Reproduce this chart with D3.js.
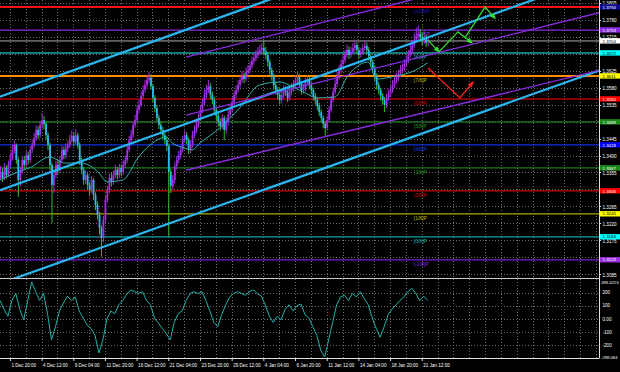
<!DOCTYPE html>
<html>
<head>
<meta charset="utf-8">
<script src="https://cdn.jsdelivr.net/npm/d3@7"></script>
<style>
html, body { margin: 0; padding: 0; background: #000; }
svg { display: block; }
text { font-family: "Liberation Sans", "DejaVu Sans", sans-serif; }
</style>
</head>
<body>
<svg id="chart" width="620" height="372"></svg>
<script>
// GBPUSD H4, 1 Dec 2020 .. 21 Jan 2021
var firstOpen = 1.3350;
var closes = [
  1.3356,1.3340,1.3367,1.3348,1.3375,1.3393,1.3415,1.3428,1.3388,1.3335,
  1.3362,1.3388,1.3375,1.3401,1.3388,1.3415,1.3428,1.3446,1.3468,1.3454,
  1.3481,1.3494,1.3484,1.3454,1.3428,1.3375,1.3322,1.3348,1.3375,1.3362,
  1.3388,1.3415,1.3401,1.3420,1.3428,1.3441,1.3452,1.3436,1.3454,1.3428,
  1.3388,1.3362,1.3335,1.3348,1.3322,1.3309,1.3335,1.3295,1.3269,1.3242,
  1.3208,1.3181,1.3229,1.3282,1.3309,1.3340,1.3330,1.3348,1.3362,1.3348,
  1.3367,1.3356,1.3375,1.3388,1.3415,1.3441,1.3454,1.3481,1.3494,1.3521,
  1.3534,1.3558,1.3574,1.3587,1.3600,1.3606,1.3584,1.3553,1.3526,1.3500,
  1.3481,1.3468,1.3454,1.3441,1.3425,1.3356,1.3319,1.3335,1.3372,1.3388,
  1.3401,1.3415,1.3441,1.3454,1.3441,1.3415,1.3428,1.3454,1.3468,1.3481,
  1.3500,1.3521,1.3539,1.3561,1.3574,1.3584,1.3561,1.3547,1.3521,1.3505,
  1.3489,1.3478,1.3500,1.3468,1.3489,1.3508,1.3521,1.3542,1.3561,1.3574,
  1.3587,1.3600,1.3611,1.3603,1.3622,1.3627,1.3638,1.3651,1.3659,1.3667,
  1.3675,1.3680,1.3685,1.3677,1.3667,1.3648,1.3627,1.3611,1.3587,1.3574,
  1.3561,1.3547,1.3561,1.3574,1.3569,1.3553,1.3569,1.3579,1.3587,1.3600,
  1.3608,1.3590,1.3574,1.3579,1.3595,1.3600,1.3587,1.3574,1.3558,1.3547,
  1.3531,1.3515,1.3500,1.3484,1.3473,1.3494,1.3521,1.3547,1.3569,1.3590,
  1.3611,1.3627,1.3643,1.3653,1.3667,1.3680,1.3667,1.3675,1.3685,1.3693,
  1.3680,1.3667,1.3675,1.3685,1.3691,1.3680,1.3664,1.3648,1.3632,1.3611,
  1.3587,1.3574,1.3558,1.3547,1.3534,1.3553,1.3563,1.3574,1.3587,1.3600,
  1.3606,1.3616,1.3627,1.3632,1.3643,1.3653,1.3667,1.3680,1.3693,1.3707,
  1.3717,1.3722,1.3714,1.3704,1.3712,1.3699,1.3704
];
var highs = [
  1.3372,1.3366,1.3380,1.3374,1.3386,1.3405,1.3428,1.3440,1.3432,1.3395,
  1.3370,1.3398,1.3399,1.3412,1.3410,1.3425,1.3442,1.3460,1.3480,1.3478,
  1.3492,1.3512,1.3505,1.3490,1.3462,1.3435,1.3382,1.3360,1.3385,1.3388,
  1.3398,1.3426,1.3424,1.3432,1.3440,1.3455,1.3466,1.3462,1.3470,1.3460,
  1.3435,1.3395,1.3370,1.3360,1.3356,1.3330,1.3345,1.3340,1.3302,1.3278,
  1.3250,1.3215,1.3240,1.3292,1.3320,1.3352,1.3355,1.3360,1.3375,1.3370,
  1.3378,1.3376,1.3386,1.3400,1.3426,1.3452,1.3468,1.3492,1.3508,1.3532,
  1.3548,1.3570,1.3586,1.3600,1.3612,1.3622,1.3616,1.3590,1.3560,1.3534,
  1.3508,1.3490,1.3476,1.3462,1.3450,1.3432,1.3365,1.3348,1.3382,1.3398,
  1.3412,1.3426,1.3452,1.3466,1.3462,1.3448,1.3440,1.3465,1.3480,1.3494,
  1.3512,1.3534,1.3550,1.3574,1.3588,1.3600,1.3592,1.3570,1.3555,1.3530,
  1.3512,1.3498,1.3510,1.3506,1.3500,1.3520,1.3534,1.3555,1.3572,1.3586,
  1.3600,1.3612,1.3624,1.3620,1.3634,1.3640,1.3650,1.3662,1.3672,1.3680,
  1.3688,1.3694,1.3698,1.3704,1.3688,1.3674,1.3655,1.3634,1.3618,1.3596,
  1.3582,1.3570,1.3574,1.3586,1.3585,1.3576,1.3580,1.3592,1.3600,1.3612,
  1.3622,1.3616,1.3598,1.3590,1.3606,1.3612,1.3608,1.3594,1.3580,1.3566,
  1.3555,1.3540,1.3522,1.3506,1.3490,1.3505,1.3532,1.3558,1.3580,1.3602,
  1.3622,1.3640,1.3655,1.3666,1.3680,1.3694,1.3690,1.3688,1.3698,1.3708,
  1.3700,1.3688,1.3686,1.3696,1.3706,1.3700,1.3688,1.3670,1.3655,1.3640,
  1.3618,1.3596,1.3580,1.3566,1.3555,1.3564,1.3576,1.3586,1.3600,1.3612,
  1.3620,1.3628,1.3640,1.3645,1.3656,1.3666,1.3680,1.3694,1.3706,1.3722,
  1.3740,1.3745,1.3736,1.3728,1.3730,1.3720,1.3716
];
var lows = [
  1.3338,1.3330,1.3335,1.3339,1.3342,1.3368,1.3386,1.3405,1.3378,1.3290,
  1.3318,1.3352,1.3364,1.3368,1.3376,1.3380,1.3406,1.3420,1.3438,1.3444,
  1.3447,1.3472,1.3470,1.3442,1.3415,1.3360,1.3221,1.3300,1.3340,1.3350,
  1.3355,1.3380,1.3390,1.3392,1.3410,1.3420,1.3434,1.3425,1.3430,1.3418,
  1.3375,1.3350,1.3322,1.3325,1.3310,1.3295,1.3300,1.3282,1.3255,1.3230,
  1.3190,1.3131,1.3170,1.3220,1.3275,1.3300,1.3318,1.3322,1.3340,1.3336,
  1.3340,1.3345,1.3348,1.3366,1.3380,1.3408,1.3432,1.3446,1.3474,1.3488,
  1.3512,1.3528,1.3550,1.3566,1.3580,1.3592,1.3575,1.3542,1.3515,1.3490,
  1.3470,1.3456,1.3444,1.3430,1.3412,1.3186,1.3300,1.3310,1.3326,1.3362,
  1.3380,1.3392,1.3408,1.3434,1.3430,1.3404,1.3406,1.3420,1.3446,1.3460,
  1.3474,1.3494,1.3512,1.3532,1.3552,1.3566,1.3550,1.3536,1.3510,1.3494,
  1.3476,1.3466,1.3470,1.3441,1.3458,1.3480,1.3500,1.3514,1.3534,1.3552,
  1.3566,1.3580,1.3592,1.3592,1.3596,1.3612,1.3618,1.3630,1.3642,1.3650,
  1.3658,1.3666,1.3670,1.3666,1.3655,1.3636,1.3615,1.3598,1.3575,1.3562,
  1.3550,1.3535,1.3538,1.3552,1.3558,1.3542,1.3546,1.3560,1.3570,1.3580,
  1.3592,1.3580,1.3562,1.3564,1.3570,1.3588,1.3576,1.3562,1.3546,1.3536,
  1.3520,1.3504,1.3488,1.3472,1.3452,1.3466,1.3488,1.3514,1.3540,1.3562,
  1.3582,1.3602,1.3618,1.3636,1.3645,1.3660,1.3656,1.3660,1.3668,1.3676,
  1.3670,1.3656,1.3660,1.3668,1.3678,1.3670,1.3652,1.3636,1.3620,1.3598,
  1.3575,1.3562,1.3546,1.3535,1.3515,1.3526,1.3545,1.3555,1.3566,1.3580,
  1.3592,1.3598,1.3608,1.3618,1.3624,1.3636,1.3645,1.3660,1.3672,1.3686,
  1.3700,1.3708,1.3702,1.3692,1.3696,1.3688,1.3690
];
// moving average, read at [bar, price]
var maPoints = [
  [0,1.3335],[8,1.3354],[16,1.3370],[25,1.3396],[33,1.3380],[41,1.3380],
  [50,1.3354],[54,1.3330],[62,1.3335],[70,1.3396],[77,1.3433],[84,1.3449],
  [87,1.3433],[92,1.3422],[97,1.3415],[101,1.3433],[111,1.3473],[121,1.3526],
  [131,1.3587],[141,1.3595],[151,1.3574],[161,1.3553],[169,1.3555],[176,1.3614],
  [186,1.3648],[190,1.3603],[200,1.3611],[208,1.3622],[216,1.3646]
];
// CCI, one reading every 2 bars
var cciValues = [
  140,73,20,140,193,73,-7,140,280,207,
  140,193,40,-160,-60,60,120,173,140,167,
  60,7,-47,-73,-127,-260,-160,0,60,40,
  107,140,187,220,207,193,207,140,107,7,
  -33,-73,-113,-160,-27,40,60,140,193,207,
  193,207,140,60,-27,-60,33,107,167,193,
  207,193,180,207,220,193,173,107,20,-27,
  20,-7,73,107,60,100,113,33,7,-60,
  -127,-240,-290,-160,-27,107,167,180,140,193,
  167,207,153,107,7,-73,-140,-60,33,73,
  107,140,167,207,233,193,140,173,140
];
var murreyPrices = [1.3794,1.3733,1.3672,1.3611,1.3550,1.3489,1.3428,1.3367,1.3306,1.3245,1.3184,1.3123];
var murreyNames = ["[+2/8]P","[+1/8]P","[8/8]P","[7/8]P","[6/8]P","[5/8]P","[4/8]P","[3/8]P","[2/8]P","[1/8]P","[0/8]P","[-1/8]P"];
var murreyLineColors = ["#ff1010","#8a2be2","#1aa3a3","#ff8c00","#b00000","#1c7a1c","#1030e0","#1c7a1c","#c80000","#a8a800","#10a0a0","#7a1fd0"];
var murreyBoxColors = ["#0a0a90","#8a2be2","#00ffff","#ffff00","#ff0000","#1a8a1a","#0000ff","#1a8a1a","#ff0000","#ffff00","#00ffff","#9a30e0"];
var murreyTextColors = ["#1a1ab0","#8a2be2","#1aa3a3","#b8b800","#d00000","#1f8f1f","#1a3ae0","#1f8f1f","#d00000","#b8b800","#10b0b0","#8a2be2"];
var bidPrice = 1.3704;
var priceTicks = [1.3805,1.3760,1.3715,1.3625,1.3580,1.3535,1.3445,1.3400,1.3355,1.3265,1.3220,1.3175,1.3085];
var gridPrices = [1.3805,1.3760,1.3715,1.3670,1.3625,1.3580,1.3535,1.3490,1.3445,1.3400,1.3355,1.3310,1.3265,1.3220,1.3175,1.3130,1.3085];
var cciTicks = [200,100,0,-100,-200];
var cciMax = 288.4213, cciMin = -298.084;
var timeLabels = ["1 Dec 20:00","4 Dec 12:00","9 Dec 04:00","11 Dec 20:00","16 Dec 12:00","21 Dec 04:00","23 Dec 20:00","29 Dec 12:00","4 Jan 04:00","6 Jan 20:00","11 Jan 12:00","14 Jan 04:00","18 Jan 20:00","21 Jan 12:00"];
var firstLabelBar = 5, labelStep = 16;
// trend channels [bar, price]
var cyanLines = [
  [[0,1.3556],[150,1.3840]],
  [[0,1.3308],[305,1.3880]],
  [[0,1.3060],[305,1.3630]]
];
var purpleLines = [
  [[94,1.3661],[305,1.3943]],
  [[94,1.3507],[305,1.3782]],
  [[94,1.3361],[305,1.3629]]
];
var greenArrows = [
  [[216,1.3707],[221.7,1.3675]],
  [[221.7,1.3675],[231.3,1.3728],[238.4,1.3699]],
  [[234.8,1.3712],[245,1.3794],[250,1.3764]]
];
var redArrows = [
  [[216.2,1.3632],[232.3,1.3553],[238.9,1.3595]]
];

var plotRight = 599, mainBottom = 278, cciTop = 281, cciBottom = 358;
var svg = d3.select("#chart");
svg.append("rect").attr("width", 620).attr("height", 372).attr("fill", "#000");

var x = d3.scaleLinear().domain([0, 295]).range([0, 584.1]);
var y = d3.scaleLinear().domain([1.30749, 1.38127]).range([mainBottom, 0]);
var yc = d3.scaleLinear().domain([cciMin, cciMax]).range([cciBottom, cciTop]);

var defs = svg.append("defs");
defs.append("clipPath").attr("id", "clipMain")
    .append("rect").attr("x", 0).attr("y", 0).attr("width", plotRight).attr("height", mainBottom);
defs.append("clipPath").attr("id", "clipCci")
    .append("rect").attr("x", 0).attr("y", mainBottom + 1).attr("width", plotRight).attr("height", cciBottom - mainBottom - 1);
[["arrGreen", "#33dd33"], ["arrRed", "#ff2020"]].forEach(function(m) {
    defs.append("marker").attr("id", m[0])
        .attr("viewBox", "0 0 10 10").attr("refX", 8).attr("refY", 5)
        .attr("markerWidth", 5).attr("markerHeight", 5).attr("orient", "auto")
        .append("path").attr("d", "M0,1L10,5L0,9z").attr("fill", m[1]);
});

// grid
var gridBars = d3.range(firstLabelBar, 303, 8);
var grid = svg.append("g").attr("stroke", "#6b6b6b").attr("stroke-dasharray", "1,2").attr("stroke-width", 1);
grid.selectAll(".gv").data(gridBars).enter().append("line")
    .attr("x1", function(d) { return Math.round(x(d)) + 0.5; })
    .attr("x2", function(d) { return Math.round(x(d)) + 0.5; })
    .attr("y1", 0).attr("y2", cciBottom);
grid.selectAll(".gh").data(gridPrices).enter().append("line")
    .attr("x1", 0).attr("x2", plotRight)
    .attr("y1", function(d) { return Math.round(y(d)) + 0.5; })
    .attr("y2", function(d) { return Math.round(y(d)) + 0.5; });
grid.selectAll(".gc").data(cciTicks).enter().append("line")
    .attr("x1", 0).attr("x2", plotRight)
    .attr("y1", function(d) { return Math.round(yc(d)) + 0.5; })
    .attr("y2", function(d) { return Math.round(yc(d)) + 0.5; });

var main = svg.append("g").attr("clip-path", "url(#clipMain)");

// murrey levels
main.selectAll(".lvl").data(murreyPrices).enter().append("line")
    .attr("x1", 0).attr("x2", plotRight)
    .attr("y1", function(d) { return y(d); }).attr("y2", function(d) { return y(d); })
    .attr("stroke", function(d, i) { return murreyLineColors[i]; })
    .attr("stroke-width", function(d, i) { return (i === 0 || i === 3) ? 2 : 1.3; });
main.selectAll(".lvlText").data(murreyPrices).enter().append("text")
    .attr("x", x(209)).attr("y", function(d) { return y(d) + 6; })
    .attr("font-size", 5).attr("fill", function(d, i) { return murreyTextColors[i]; })
    .text(function(d, i) { return murreyNames[i]; });

// bid line
main.append("line").attr("x1", 0).attr("x2", plotRight)
    .attr("y1", y(bidPrice)).attr("y2", y(bidPrice))
    .attr("stroke", "#b0b0b0").attr("stroke-width", 1);

// candles
var bars = closes.map(function(c, i) {
    return { i: i, o: i ? closes[i - 1] : firstOpen, c: c, h: highs[i], l: lows[i] };
});
var candle = main.selectAll(".candle").data(bars).enter().append("g");
candle.append("line")
    .attr("x1", function(d) { return x(d.i) + 0.5; })
    .attr("x2", function(d) { return x(d.i) + 0.5; })
    .attr("y1", function(d) { return y(d.h); })
    .attr("y2", function(d) { return y(d.l); })
    .attr("stroke", function(d) { return d.c >= d.o ? "#a030e0" : "#30c030"; })
    .attr("stroke-width", 1);
candle.append("rect")
    .attr("x", function(d) { return x(d.i) - 0.4; })
    .attr("width", 1.8)
    .attr("y", function(d) { return y(Math.max(d.o, d.c)); })
    .attr("height", function(d) { return Math.max(1, Math.abs(y(d.o) - y(d.c))); })
    .attr("fill", function(d) { return d.c >= d.o ? "#a030e0" : "#2fb8ee"; });

// moving average
main.append("path").datum(maPoints)
    .attr("d", d3.line().x(function(d) { return x(d[0]); }).y(function(d) { return y(d[1]); }).curve(d3.curveMonotoneX))
    .attr("fill", "none").attr("stroke", "#30b0a8").attr("stroke-width", 1);

// channels
var seg = d3.line().x(function(d) { return x(d[0]); }).y(function(d) { return y(d[1]); });
main.selectAll(".cyan").data(cyanLines).enter().append("path")
    .attr("d", seg).attr("fill", "none").attr("stroke", "#29b6f0").attr("stroke-width", 2.2);
main.selectAll(".purple").data(purpleLines).enter().append("path")
    .attr("d", seg).attr("fill", "none").attr("stroke", "#8a2be2").attr("stroke-width", 1.4);

// forecast arrows
main.selectAll(".ga").data(greenArrows).enter().append("path")
    .attr("d", seg).attr("fill", "none").attr("stroke", "#33dd33").attr("stroke-width", 1.3)
    .attr("marker-end", "url(#arrGreen)");
main.selectAll(".ra").data(redArrows).enter().append("path")
    .attr("d", seg).attr("fill", "none").attr("stroke", "#ff2020").attr("stroke-width", 1.3)
    .attr("marker-end", "url(#arrRed)");

// CCI
var cciG = svg.append("g").attr("clip-path", "url(#clipCci)");
cciG.append("path").datum(cciValues)
    .attr("d", d3.line().x(function(d, i) { return x(i * 2); }).y(function(d) { return yc(d); }))
    .attr("fill", "none").attr("stroke", "#20b2aa").attr("stroke-width", 1);

// frame
svg.append("line").attr("x1", 0).attr("x2", plotRight).attr("y1", mainBottom + 0.5).attr("y2", mainBottom + 0.5)
    .attr("stroke", "#c8c8c8").attr("stroke-width", 1);
svg.append("line").attr("x1", 0).attr("x2", plotRight + 0.5).attr("y1", cciBottom + 0.5).attr("y2", cciBottom + 0.5)
    .attr("stroke", "#e0e0e0").attr("stroke-width", 1);
svg.append("line").attr("x1", plotRight + 0.5).attr("x2", plotRight + 0.5).attr("y1", 0).attr("y2", cciBottom)
    .attr("stroke", "#e0e0e0").attr("stroke-width", 1);

// price axis labels
var axisX = plotRight + 3.5;
var fs = 4.6;
svg.selectAll(".pt").data(priceTicks).enter().append("text")
    .attr("x", axisX).attr("y", function(d) { return y(d) + 2.4; })
    .attr("font-size", fs).attr("fill", "#fff")
    .text(function(d) { return d3.format(".4f")(d); });
svg.selectAll(".ptick").data(gridPrices).enter().append("line")
    .attr("x1", plotRight).attr("x2", plotRight + 2)
    .attr("y1", function(d) { return Math.round(y(d)) + 0.5; })
    .attr("y2", function(d) { return Math.round(y(d)) + 0.5; })
    .attr("stroke", "#e0e0e0");

var boxes = murreyPrices.map(function(p, i) { return { p: p, fill: murreyBoxColors[i] }; });
boxes.push({ p: bidPrice, fill: "#ffffff" });
var box = svg.selectAll(".box").data(boxes).enter().append("g")
    .attr("transform", function(d) { return "translate(" + (plotRight + 1) + "," + (y(d.p) - 2.8) + ")"; });
box.append("rect").attr("width", 20).attr("height", 5.4).attr("fill", function(d) { return d.fill; });
box.append("text").attr("x", 2.5).attr("y", 4.4).attr("font-size", 4.4)
    .attr("fill", function(d) { return (d.fill === "#ffffff" || d.fill === "#ffff00" || d.fill === "#00ffff") ? "#000" : "#fff"; })
    .text(function(d) { return d3.format(".4f")(d.p); });

// CCI axis labels
svg.selectAll(".ct").data(cciTicks).enter().append("text")
    .attr("x", axisX).attr("y", function(d) { return yc(d) + 1.7; })
    .attr("font-size", fs).attr("fill", "#fff")
    .text(function(d) { return d === 0 ? "0.00" : d; });
svg.append("text").attr("x", plotRight + 2).attr("y", cciTop + 3).attr("font-size", 4.2).attr("fill", "#fff").text(cciMax);
svg.append("text").attr("x", plotRight + 2).attr("y", cciBottom + 1).attr("font-size", 4.2).attr("fill", "#fff").text(cciMin);

// time labels
var tl = svg.selectAll(".tl").data(timeLabels).enter().append("g")
    .attr("transform", function(d, i) { return "translate(" + x(firstLabelBar + labelStep * i) + ",0)"; });
tl.append("line").attr("x1", 0.5).attr("x2", 0.5).attr("y1", cciBottom).attr("y2", cciBottom + 3).attr("stroke", "#e0e0e0");
tl.append("text").attr("x", 1.5).attr("y", 367).attr("font-size", fs).attr("fill", "#fff")
    .text(function(d) { return d; });
</script>
</body>
</html>
